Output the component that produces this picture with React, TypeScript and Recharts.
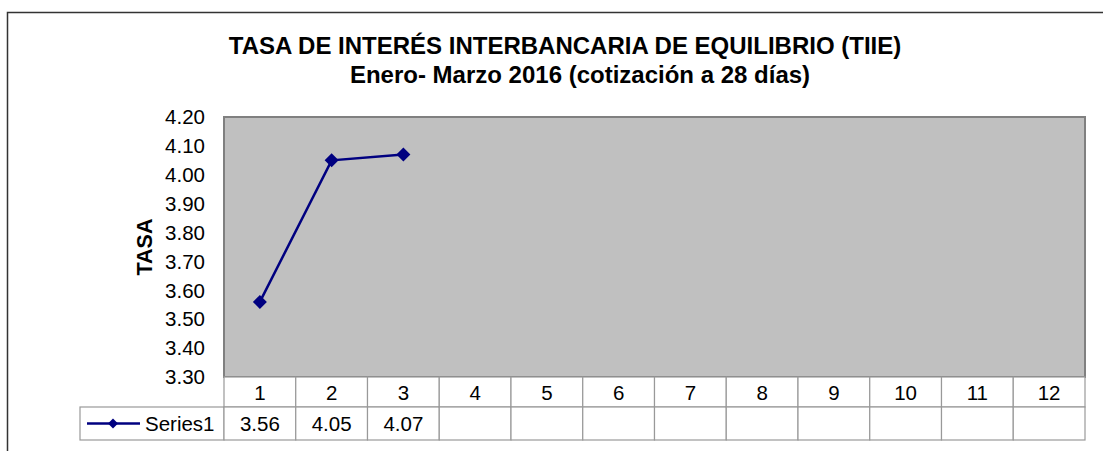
import { LineChart, Line, XAxis, YAxis, ReferenceArea, Customized } from "recharts";

// chart data
const categories = ["1", "2", "3", "4", "5", "6", "7", "8", "9", "10", "11", "12"];
const series1 = [3.56, 4.05, 4.07];
const yTicks = [3.3, 3.4, 3.5, 3.6, 3.7, 3.8, 3.9, 4.0, 4.1, 4.2];
const seriesName = "Series1";
const titleLine1 = "TASA DE INTERÉS INTERBANCARIA DE EQUILIBRIO (TIIE)";
const titleLine2 = "Enero- Marzo 2016 (cotización a 28 días)";

const data = categories.map((c, i) => ({
  cat: c,
  value: i < series1.length ? series1[i] : null,
}));

// layout
const W = 1103;
const H = 451;
const PLOT_LEFT = 224;
const PLOT_RIGHT = 1085;
const PLOT_TOP = 117;
const HEAD_H = 30;
const ROW_H = 33;
const BOTTOM_GAP = 11;
const CELL_W = (PLOT_RIGHT - PLOT_LEFT) / categories.length;

const NAVY = "#000080";
const GRID = "#999999";
const FONT = "'Liberation Sans', Arial, sans-serif";
const FS = 20.5;

function Diamond(props: any) {
  const { cx, cy, index, size = 7 } = props;
  if (cx == null || cy == null || props.value == null) return <g key={`d-${index}`} />;
  return (
    <path
      key={`d-${index}`}
      d={`M${cx},${cy - size} L${cx + size},${cy} L${cx},${cy + size} L${cx - size},${cy} Z`}
      fill={NAVY}
    />
  );
}

function TableTick(props: any) {
  const { x, y, payload } = props;
  const i = categories.indexOf(String(payload.value));
  const v = i >= 0 && i < series1.length ? series1[i].toFixed(2) : "";
  const left = x - CELL_W / 2;
  return (
    <g>
      <rect x={left} y={y} width={CELL_W} height={HEAD_H} fill="#fff" stroke={GRID} strokeWidth={1.2} />
      <rect x={left} y={y + HEAD_H} width={CELL_W} height={ROW_H} fill="#fff" stroke={GRID} strokeWidth={1.2} />
      <text x={x} y={y + HEAD_H / 2} textAnchor="middle" dominantBaseline="central" fontSize={FS} fontFamily={FONT} fill="#000">
        {payload.value}
      </text>
      <text x={x} y={y + HEAD_H + ROW_H / 2} textAnchor="middle" dominantBaseline="central" fontSize={FS} fontFamily={FONT} fill="#000">
        {v}
      </text>
    </g>
  );
}

function Decorations() {
  const rowY = H - BOTTOM_GAP - ROW_H;
  return (
    <g>
      {/* outer frame (cropped at right/bottom) */}
      <path d={`M7.5,${H} L7.5,12.5 L${W},12.5`} fill="none" stroke="#333" strokeWidth={1.5} />
      <text x={565} y={54} textAnchor="middle" fontSize={24} fontWeight="bold" fontFamily={FONT} fill="#000">
        {titleLine1}
      </text>
      <text x={580} y={83} textAnchor="middle" fontSize={24} fontWeight="bold" fontFamily={FONT} fill="#000">
        {titleLine2}
      </text>
      <text
        transform={`translate(145, 247) rotate(-90)`}
        textAnchor="middle"
        dominantBaseline="central"
        fontSize={21.5}
        fontWeight="bold"
        fontFamily={FONT}
        fill="#000"
      >
        TASA
      </text>
      {/* legend key cell */}
      <rect x={80} y={rowY} width={PLOT_LEFT - 80} height={ROW_H} fill="#fff" stroke={GRID} strokeWidth={1.2} />
      <line x1={87} x2={140} y1={rowY + ROW_H / 2} y2={rowY + ROW_H / 2} stroke={NAVY} strokeWidth={2.5} />
      <Diamond cx={113} cy={rowY + ROW_H / 2} size={5} value={1} index={99} />
      <text x={145} y={rowY + ROW_H / 2} dominantBaseline="central" fontSize={FS} fontFamily={FONT} fill="#000">
        {seriesName}
      </text>
    </g>
  );
}

export default function App() {
  return (
    <div style={{ position: "absolute", left: 0, top: 0, background: "#fff" }}>
      <LineChart
        width={W}
        height={H}
        data={data}
        margin={{ top: PLOT_TOP, right: W - PLOT_RIGHT, bottom: BOTTOM_GAP, left: 0 }}
      >
        <ReferenceArea
          y1={yTicks[0]}
          y2={yTicks[yTicks.length - 1]}
          fill="#C0C0C0"
          fillOpacity={1}
          stroke="#808080"
          strokeWidth={2}
        />
        <XAxis
          dataKey="cat"
          scale="band"
          height={HEAD_H + ROW_H}
          axisLine={false}
          tickLine={false}
          tickSize={0}
          tickMargin={0}
          interval={0}
          tick={<TableTick />}
        />
        <YAxis
          width={PLOT_LEFT}
          domain={[yTicks[0], yTicks[yTicks.length - 1]]}
          ticks={yTicks}
          tickFormatter={(v: number) => v.toFixed(2)}
          axisLine={false}
          tickLine={false}
          tickSize={0}
          tickMargin={19}
          interval={0}
          tick={{ fontSize: FS, fill: "#000", fontFamily: FONT }}
        />
        <Line
          type="linear"
          dataKey="value"
          stroke={NAVY}
          strokeWidth={2.5}
          dot={<Diamond />}
          activeDot={false}
          isAnimationActive={false}
        />
        <Customized component={<Decorations />} />
      </LineChart>
    </div>
  );
}
